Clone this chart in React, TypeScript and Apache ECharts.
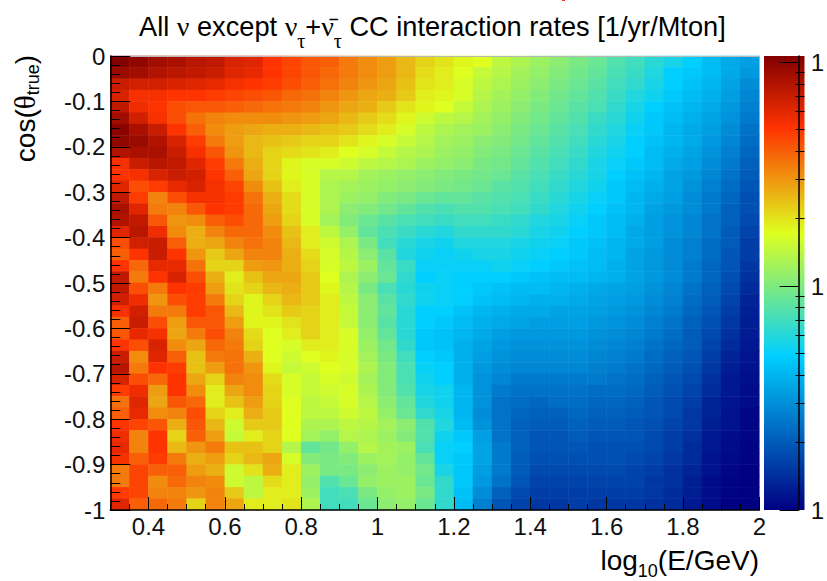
import React, { useEffect, useRef } from "react";
import * as echarts from "echarts";

const W = 827;
const H = 581;
const FONT = '"Liberation Sans", Arial, sans-serif';
const SERIF = '"Liberation Serif", serif';

const xBins = Array.from({ length: 34 }, (_, i) => (0.325 + i * 0.05).toFixed(3));
const yBins = Array.from({ length: 40 }, (_, i) => (-0.0125 - i * 0.025).toFixed(4));

// Colour-bar position (percent, log scale) of each cell; row 0 is the top row.
const rows: number[][] = [
  [100,98,96,95,93,92,89,88,84,82,80,79,76,74,72,69,66,64,62,61,57,55,53,51,49,47,44,42,39,37,34,31,28,26],
  [97,96,94,93,92,91,88,87,84,82,80,78,76,74,72,69,65,63,61,58,56,54,52,50,48,46,43,41,38,34,33,31,28,25],
  [91,90,90,89,88,87,85,84,83,81,79,77,75,73,71,68,64,63,60,57,55,53,51,49,47,45,42,40,37,34,32,30,27,23],
  [89,85,85,84,84,83,82,81,80,78,77,75,73,71,70,67,63,62,60,56,54,52,50,48,46,44,41,38,36,33,31,29,26,22],
  [92,86,84,81,80,80,79,78,77,76,75,73,71,70,67,64,62,61,58,55,53,51,49,47,45,43,40,37,34,32,30,28,25,21],
  [96,90,85,81,77,75,74,74,74,73,72,71,69,67,65,62,59,57,56,54,52,50,48,46,44,41,39,36,33,31,29,27,24,20],
  [99,95,91,84,79,74,72,71,70,70,69,68,67,65,63,60,57,55,54,53,51,49,47,45,43,40,38,35,33,30,28,26,23,19],
  [98,97,94,89,83,76,72,69,68,67,66,66,64,62,60,58,56,54,53,51,50,48,46,44,42,39,37,34,32,30,28,25,22,18],
  [94,95,95,91,85,80,73,69,66,65,64,63,61,60,58,56,55,53,52,50,49,47,45,43,41,38,36,34,31,29,27,24,21,17],
  [85,91,93,92,88,83,76,70,66,62,60,60,59,57,56,55,53,52,51,49,48,46,44,42,40,37,35,33,31,28,26,23,20,16],
  [84,85,89,91,90,84,79,71,66,62,60,56,56,54,53,52,51,50,49,48,47,45,43,41,39,37,34,32,30,27,25,22,19,15],
  [88,81,83,87,89,85,82,74,68,63,60,55,54,53,52,51,50,49,48,47,45,44,42,40,38,36,33,31,29,27,24,21,18,14],
  [92,83,75,81,85,85,83,77,70,65,60,55,53,52,50,49,47,46,46,45,44,43,41,39,37,35,33,30,28,26,23,20,17,13],
  [95,88,76,75,80,84,83,78,71,65,60,55,51,50,48,46,44,43,44,44,43,42,40,38,36,34,32,30,27,25,23,20,16,13],
  [94,92,80,73,74,79,81,78,72,66,60,54,50,47,45,43,42,41,42,42,41,40,38,37,35,33,31,29,26,24,22,19,16,12],
  [88,93,86,74,70,75,78,78,74,68,63,57,52,46,43,41,39,38,40,40,40,39,37,36,34,33,31,28,26,24,22,19,15,11],
  [81,90,91,79,70,71,75,77,75,69,63,59,55,49,42,39,37,36,38,38,38,37,36,35,33,32,30,28,26,23,21,18,15,10],
  [79,84,91,84,73,67,71,75,75,70,65,60,56,51,45,38,36,35,36,37,37,36,35,34,33,31,30,27,25,23,21,18,14,10],
  [84,78,87,87,77,66,66,72,73,70,66,60,57,53,46,41,35,35,35,35,36,35,34,33,32,31,29,27,25,23,20,17,14,9],
  [92,76,84,89,81,70,63,68,71,71,67,61,55,51,47,40,34,35,34,34,34,33,32,31,31,30,29,27,25,23,20,17,13,8],
  [92,81,76,84,83,72,64,66,69,70,67,62,56,49,43,39,36,35,34,33,32,31,31,30,29,28,27,26,24,22,19,16,12,7],
  [90,86,73,81,83,76,66,62,66,69,67,63,57,51,45,40,36,35,34,32,31,30,29,29,28,27,26,25,23,21,18,15,11,6],
  [85,90,76,76,83,80,69,62,64,67,66,63,58,51,46,39,34,34,32,30,29,28,28,27,27,26,25,24,22,20,17,14,10,5.5],
  [79,91,81,72,80,80,72,62,62,64,66,63,58,51,45,39,34,33,31,29,28,27,26,26,26,25,24,23,21,19,16,13,9,5],
  [80,87,85,71,76,81,75,65,61,63,66,63,60,52,46,39,33,32,30,28,26,25,25,25,25,24,23,22,20,18,15,12,8,4.5],
  [84,81,89,74,71,78,76,66,61,60,63,63,60,53,48,40,33,32,29,27,25,24,24,24,24,23,22,21,19,17,15,11,7,4],
  [91,74,88,79,68,76,77,70,61,59,61,62,60,54,49,42,34,33,29,26,24,23,23,23,23,22,21,20,18,16,14,10,6,3.5],
  [93,76,84,83,68,72,77,73,62,58,59,61,60,55,50,43,35,34,29,25,23,22,22,22,22,21,20,19,17,15,13,9,5,3],
  [89,81,78,84,71,66,75,74,65,60,58,60,59,54,50,43,36,34,29,24,22,20,20,20,20,20,19,18,16,14,12,8,4,2.5],
  [83,86,72,84,74,63,71,74,66,60,58,59,60,55,50,44,37,36,30,24,20,19,19,19,19,18,18,17,15,13,11,7,4,2],
  [77,88,71,80,78,63,68,72,66,61,57,58,60,56,51,46,38,36,30,24,19,18,17,18,18,17,17,16,14,12,10,6,3.5,2],
  [79,87,74,75,81,66,63,70,67,61,57,57,59,57,52,47,40,37,30,23,19,17,16,16,17,16,16,15,14,12,9,6,3,1],
  [84,82,80,70,80,69,59,67,67,61,55,55,57,56,54,51,44,38,31,24,19,16,15,15,16,15,15,14,13,11,9,5,3,1],
  [86,75,84,66,79,72,58,63,66,61,54,52,56,55,53,50,44,36,33,26,19,16,14,14,15,14,14,14,12,10,8,4,2,1],
  [87,75,84,69,73,76,68,68,66,56,46,48,52,56,54,53,43,35,34,27,20,16,14,14,14,13,13,13,12,10,7,4,2,0.5],
  [85,79,83,76,70,72,66,69,71,60,50,49,50,53,54,52,46,35,33,27,20,15,13,13,13,13,13,12,11,9,7,3,1.5,0.5],
  [76,82,79,79,72,70,59,64,70,63,53,49,49,51,53,52,48,37,33,26,20,15,12,12,12,12,12,11,10,8,6,3,1,0],
  [76,82,74,78,75,74,59,57,65,63,52,44,47,52,53,53,47,40,33,25,19,14,11,11,11,11,11,11,9,8,5,2,0.5,0],
  [83,82,75,75,73,75,67,57,63,63,53,42,43,49,52,53,49,40,32,23,16,12,10,10,10,10,10,10,9,7,5,2,0.5,0],
  [88,79,78,76,66,75,71,63,63,64,55,42,42,47,51,52,47,40,31,21,14,11,9,9,10,9,9,9,8,7,4,2,0,0],
];

const xMajor = [0.4, 0.6, 0.8, 1, 1.2, 1.4, 1.6, 1.8, 2];
const xMinor = Array.from({ length: 35 }, (_, i) => +(0.3 + i * 0.05).toFixed(2));
const yMajor = [0, -0.1, -0.2, -0.3, -0.4, -0.5, -0.6, -0.7, -0.8, -0.9, -1];
const yMinor = Array.from({ length: 51 }, (_, i) => +(-1 + i * 0.02).toFixed(2));
const barDecades = [-1, 0, 1];
const barMultiples = [2, 3, 4, 5, 6, 7, 8, 9];

// ROOT rainbow palette stops
const stops = [0, 0.34, 0.61, 0.84, 1];
const red = [0, 0, 0.87, 1, 0.51];
const green = [0, 0.81, 1, 0.2, 0];
const blue = [0.51, 1, 0.12, 0, 0];

function paletteColour(t: number) {
  let k = 0;
  while (k < stops.length - 2 && t > stops[k + 1]) k++;
  const f = (t - stops[k]) / (stops[k + 1] - stops[k]);
  const c = (a: number[]) => Math.round(255 * (a[k] + (a[k + 1] - a[k]) * f));
  return `rgb(${c(red)},${c(green)},${c(blue)})`;
}

const palette = Array.from({ length: 201 }, (_, i) => paletteColour(i / 200));

const cells: number[][] = [];
rows.forEach((r, j) => r.forEach((v, i) => cells.push([i, j, v])));

const PLOT = { left: 110.3, top: 56, width: 649, height: 454 };
const BAR = { left: 764, top: 56, width: 40.5, height: 454 };
const LOG_MAX = 1.027;

function hiddenValue(gridIndex: number, min: number, max: number) {
  return { type: "value", gridIndex, min, max, show: false };
}

const tickStyle = { color: "#000", width: 1 };

function option() {
  const barMinor: number[] = [];
  barDecades.forEach((d) =>
    barMultiples.forEach((m) => {
      const v = d + Math.log10(m);
      if (v <= LOG_MAX) barMinor.push(v);
    })
  );
  return {
    animation: false,
    backgroundColor: "#fff",
    textStyle: { fontFamily: FONT },
    title: {
      text: "All {g|ν} except {g|ν}{s|τ}+{g|ν\u0304}{s|τ} CC interaction rates [1/yr/Mton]",
      left: 139,
      top: 1,
      padding: 0,
      textStyle: {
        fontFamily: FONT,
        fontSize: 27.2,
        fontWeight: "normal",
        color: "#000",
        lineHeight: 50,
        rich: {
          g: { fontFamily: SERIF, fontSize: 28, color: "#000", lineHeight: 50 },
          s: { fontFamily: SERIF, fontSize: 20, color: "#000", verticalAlign: "bottom", lineHeight: 18 },
        },
      },
    },
    grid: [
      { ...PLOT, show: false },
      { ...PLOT, show: false },
      { ...PLOT, show: false },
      { ...BAR, show: false },
      { ...BAR, show: false },
    ],
    xAxis: [
      { type: "category", gridIndex: 0, data: xBins, show: false },
      {
        type: "value",
        gridIndex: 1,
        min: 0.3,
        max: 2,
        position: "bottom",
        z: 10,
        splitLine: { show: false },
        axisLine: { show: true, onZero: false, lineStyle: { color: "#000", width: 1.5 } },
        axisTick: { show: true, inside: true, length: 13, lineStyle: tickStyle, customValues: xMajor },
        axisLabel: {
          show: true,
          margin: 4,
          fontFamily: FONT,
          fontSize: 24,
          color: "#111",
          customValues: xMajor,
          hideOverlap: false,
          showMinLabel: true,
          showMaxLabel: true,
        },
      },
      {
        type: "value",
        gridIndex: 1,
        min: 0.3,
        max: 2,
        position: "top",
        z: 10,
        splitLine: { show: false },
        axisLine: { show: true, onZero: false, lineStyle: { color: "#b8b8b8", width: 1 } },
        axisTick: { show: false },
        axisLabel: { show: false },
      },
      {
        type: "value",
        gridIndex: 2,
        min: 0.3,
        max: 2,
        position: "bottom",
        z: 10,
        splitLine: { show: false },
        axisLine: { show: false, onZero: false },
        axisTick: { show: true, inside: true, length: 6, lineStyle: tickStyle, customValues: xMinor },
        axisLabel: { show: false },
      },
      hiddenValue(3, 0, 1),
      hiddenValue(4, 0, 1),
    ],
    yAxis: [
      { type: "category", gridIndex: 0, data: yBins, inverse: true, show: false },
      {
        type: "value",
        gridIndex: 1,
        min: -1,
        max: 0,
        position: "left",
        z: 10,
        splitLine: { show: false },
        axisLine: { show: true, onZero: false, lineStyle: { color: "#000", width: 1.5 } },
        axisTick: { show: true, inside: true, length: 20, lineStyle: tickStyle, customValues: yMajor },
        axisLabel: {
          show: true,
          margin: 5,
          fontFamily: FONT,
          fontSize: 24,
          color: "#111",
          customValues: yMajor,
          hideOverlap: false,
          showMinLabel: true,
          showMaxLabel: true,
        },
      },
      {
        type: "value",
        gridIndex: 2,
        min: -1,
        max: 0,
        position: "left",
        z: 10,
        splitLine: { show: false },
        axisLine: { show: false, onZero: false },
        axisTick: { show: true, inside: true, length: 10, lineStyle: tickStyle, customValues: yMinor },
        axisLabel: { show: false },
      },
      {
        type: "value",
        gridIndex: 3,
        min: -1,
        max: LOG_MAX,
        position: "right",
        z: 10,
        splitLine: { show: false },
        axisLine: { show: true, onZero: false, lineStyle: { color: "#000", width: 1.5 } },
        axisTick: { show: true, inside: true, length: 19, lineStyle: tickStyle, customValues: barDecades },
        axisLabel: {
          show: true,
          margin: 12,
          fontFamily: FONT,
          fontSize: 24,
          color: "#111",
          customValues: barDecades,
          formatter: () => "1",
          hideOverlap: false,
          showMinLabel: true,
          showMaxLabel: true,
        },
      },
      {
        type: "value",
        gridIndex: 4,
        min: -1,
        max: LOG_MAX,
        position: "right",
        z: 10,
        splitLine: { show: false },
        axisLine: { show: false, onZero: false },
        axisTick: { show: true, inside: true, length: 9, lineStyle: tickStyle, customValues: barMinor },
        axisLabel: { show: false },
      },
    ],
    visualMap: {
      type: "continuous",
      show: false,
      min: 0,
      max: 100,
      seriesIndex: 0,
      inRange: { color: palette },
    },
    series: [
      {
        type: "heatmap",
        xAxisIndex: 0,
        yAxisIndex: 0,
        data: cells,
        z: 2,
        progressive: 0,
        itemStyle: { borderWidth: 0 },
      },
    ],
    graphic: [
      {
        type: "rect",
        z: 1,
        shape: { x: BAR.left, y: BAR.top, width: BAR.width, height: BAR.height },
        style: {
          fill: new echarts.graphic.LinearGradient(
            0,
            1,
            0,
            0,
            stops.map((s) => ({ offset: s, color: paletteColour(s) }))
          ),
        },
      },
      {
        type: "rect",
        z: 1,
        shape: { x: 562, y: 0, width: 3, height: 1 },
        style: { fill: "#ff3020" },
      },
      {
        type: "text",
        x: 25,
        y: 55,
        rotation: Math.PI / 2,
        z: 20,
        style: {
          text: "cos({g|θ}{s|true})",
          align: "right",
          verticalAlign: "middle",
          fontFamily: FONT,
          fontSize: 28,
          fill: "#000",
          lineHeight: 34,
          rich: {
            g: { fontFamily: SERIF, fontSize: 29, fill: "#000", lineHeight: 34 },
            s: { fontFamily: FONT, fontSize: 18, fill: "#000", verticalAlign: "bottom", lineHeight: 16 },
          },
        },
      },
      {
        type: "text",
        x: 759,
        y: 560,
        z: 20,
        style: {
          text: "log{s|10}(E/GeV)",
          align: "right",
          verticalAlign: "middle",
          fontFamily: FONT,
          fontSize: 28,
          fill: "#000",
          lineHeight: 40,
          rich: {
            s: { fontFamily: FONT, fontSize: 18, fill: "#000", verticalAlign: "bottom", lineHeight: 16 },
          },
        },
      },
    ],
  };
}

export default function App() {
  const ref = useRef<HTMLDivElement>(null);
  useEffect(() => {
    const chart = echarts.init(ref.current!, undefined, { renderer: "svg" });
    chart.setOption(option() as any);
    return () => chart.dispose();
  }, []);
  return (
    <div
      ref={ref}
      style={{ position: "fixed", left: 0, top: 0, width: W, height: H, overflow: "hidden" }}
    />
  );
}
